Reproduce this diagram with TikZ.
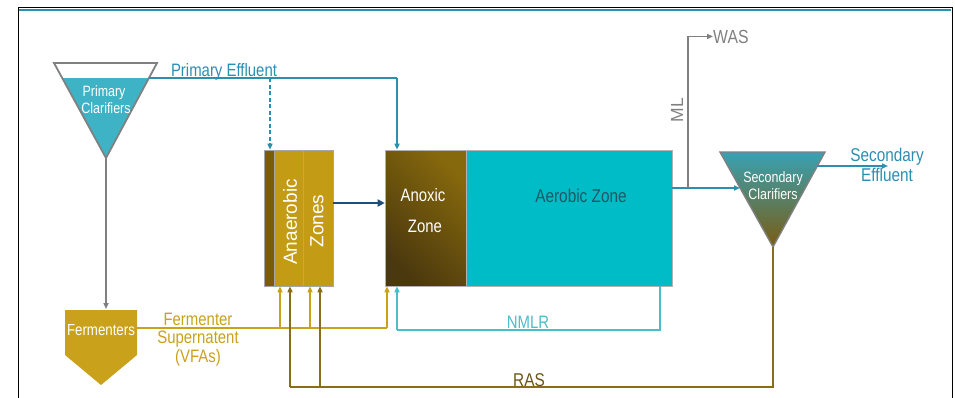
\documentclass[tikz,border=0pt]{standalone}
\usepackage{fontspec}
\setmainfont{Liberation Sans}[FakeStretch=0.83]
\newfontfamily\rotfont{Liberation Sans}
\usetikzlibrary{arrows.meta}
\definecolor{tealA}{HTML}{2B8FB0}
\definecolor{clarA}{HTML}{3FB3C6}
\definecolor{grayA}{HTML}{808080}
\definecolor{goldA}{HTML}{C9A11B}
\definecolor{goldB}{HTML}{C49B14}
\definecolor{stripA}{HTML}{7A5C0A}
\definecolor{anoxD}{HTML}{4A380E}
\definecolor{anoxL}{HTML}{86680D}
\definecolor{aerA}{HTML}{00BCC6}
\definecolor{aerT}{HTML}{1F5868}
\definecolor{navyA}{HTML}{1F4E79}
\definecolor{rasA}{HTML}{8A6D1A}
\definecolor{rasT}{HTML}{6B5516}
\definecolor{nmlrA}{HTML}{4DBCCB}
\definecolor{scBot}{HTML}{7A5C12}
\newcommand{\fsz}[1]{\fontsize{#1}{#1}\selectfont}
\begin{document}
\begin{tikzpicture}[x=1pt,y=-1pt,
  tip/.style={-{Triangle[length=6pt,width=5pt]}},
  lab/.style={inner sep=0pt,anchor=base},
  zone/.style={draw=black!35,line width=0.6pt,minimum height=136pt,inner sep=0pt},
  peline/.style={draw=tealA,line width=1.8pt},
  graylin/.style={draw=grayA,line width=1.6pt},
  goldlin/.style={draw=goldA,line width=2.2pt},
  raslin/.style={draw=rasA,line width=2.2pt},
  nmlrlin/.style={draw=nmlrA,line width=1.8pt}]
\useasboundingbox (0,0) rectangle (955,397);
% frame
\draw[black,line width=1pt] (18,398) -- (18,7) -- (952,7) -- (952,398);
\draw[tealA,line width=2.2pt] (19,10) -- (951,10);

% primary clarifier
\fill[clarA] (62.2,78) -- (148.9,78) -- (106,158) -- cycle;
\draw[grayA,line width=1.8pt,line join=miter] (54,63) -- (157,63) -- (106,158) -- cycle;
\node[lab,text=white,font=\fsz{15}] (pc1) at (104,96) {Primary};
\node[lab,text=white,font=\fsz{15}] (pc2) at (106,113) {Clarifiers};
\coordinate (pcw) at (149,78);
\coordinate (pcapex) at (106,158);

% fermenters
\fill[goldA] (65,310) -- (137,310) -- (137,355) -- (101,385) -- (65,355) -- cycle;
\node[lab,text=white,font=\fsz{16}] (fer) at (101,335) {Fermenters};
\coordinate (ferR) at (137,328);

% anaerobic zones
\node[zone,fill=stripA,minimum width=10pt] (strip) at (269,218) {};
\node[zone,fill=goldB,minimum width=29pt] (zA) at (288.5,218) {};
\node[zone,fill=goldB,minimum width=30pt] (zZ) at (318,218) {};
\node[rotate=90,text=white,font=\rotfont\fsz{19},inner sep=0pt] (anaer) at (290,222) {Anaerobic};
\node[rotate=90,text=white,font=\rotfont\fsz{19},inner sep=0pt] (zones) at (317,221) {Zones};

% anoxic and aerobic
\node[zone,draw=black!30,left color=anoxD,right color=anoxL,shading angle=135,minimum width=81pt] (anox) at (425.5,218) {};
\node[zone,draw=black!30,fill=aerA,minimum width=206pt] (aer) at (569,218) {};
\node[lab,text=white,font=\fsz{18}] (anoxt1) at (423,201) {Anoxic};
\node[lab,text=white,font=\fsz{18}] (anoxt2) at (425,232) {Zone};
\node[lab,text=aerT,font=\fsz{18.5}] (aert) at (581,202) {Aerobic Zone};

% secondary clarifier
\shade[top color=clarA!90!black,bottom color=scBot] (720,152) -- (825,152) -- (773,247) -- cycle;
\draw[grayA,line width=1.4pt,line join=miter] (720,152) -- (825,152) -- (773,247) -- cycle;
\node[lab,text=white,font=\fsz{15}] (sc1) at (773,182) {Secondary};
\node[lab,text=white,font=\fsz{15}] (sc2) at (773,199) {Clarifiers};
\coordinate (scin) at (740,188);
\coordinate (scout) at (817,166);
\coordinate (scapex) at (773,247);

% primary effluent
\coordinate (peC) at (397,78);
\coordinate (dashC) at (270,78);
\draw[peline] (pcw) -- (peC);
\draw[peline,tip] (peC) -- (peC |- anox.north);
\draw[tealA,line width=1.4pt,dash pattern=on 4pt off 2.5pt,tip] (dashC) -- (dashC |- strip.north);
\node[lab,text=tealA,font=\fsz{18}] (pelab) at (224,76) {Primary Effluent};

% gray to fermenters
\coordinate (ferTop) at (106,309);
\draw[graylin,tip] (pcapex) -- (ferTop);

% anaerobic to anoxic
\draw[navyA,line width=2.6pt,-{Triangle[length=7pt,width=7pt]}] (zZ.east |- 0,203) -- (anox.west |- 0,203);

% fermenter supernatant
\coordinate (f1) at (280,328);
\coordinate (f2) at (310,328);
\coordinate (f3) at (387,328);
\draw[goldlin] (ferR) -- (f3);
\draw[goldlin,tip] (f1) -- (f1 |- zA.south);
\draw[goldlin,tip] (f2) -- (f2 |- zZ.south);
\draw[goldlin,tip] (f3) -- (f3 |- anox.south);
\node[lab,text=goldA,font=\fsz{18}] (fs1) at (198,325) {Fermenter};
\node[lab,text=goldA,font=\fsz{18}] (fs2) at (198,343) {Supernatent};
\node[lab,text=goldA,font=\fsz{18}] (fs3) at (198,362) {(VFAs)};

% RAS
\coordinate (rasB) at (773,387);
\coordinate (r1) at (290,387);
\coordinate (r2) at (320,387);
\draw[raslin,line join=miter] (scapex) -- (rasB) -- (r1);
\draw[raslin,tip] (r1) -- (r1 |- zA.south);
\draw[raslin,tip] (r2) -- (r2 |- zZ.south);
\node[lab,text=rasT,font=\fsz{18.5}] (raslab) at (529,386) {RAS};

% NMLR
\coordinate (n1) at (660,330);
\coordinate (n2) at (397,330);
\draw[nmlrlin,line join=miter] (n1 |- aer.south) -- (n1) -- (n2);
\draw[nmlrlin,tip] (n2) -- (n2 |- anox.south);
\node[lab,text=nmlrA,font=\fsz{18}] (nmlrlab) at (528,328) {NMLR};

% aerobic outlet, ML, WAS
\coordinate (ml) at (688,188);
\draw[peline] (aer.east |- ml) -- (ml);
\draw[peline,tip] (ml) -- (scin);
\node[lab,anchor=base west,text=grayA,font=\fsz{19}] (was) at (713,43) {WAS};
\draw[graylin,line join=miter,tip] (ml) -- (ml |- was.west) -- (was.west);
\node[rotate=90,text=grayA,font=\rotfont\fsz{17.5},inner sep=0pt] (mllab) at (677,110) {ML};

% secondary effluent
\node[lab,text=tealA,font=\fsz{18.5}] (se1) at (887,161) {Secondary};
\node[lab,text=tealA,font=\fsz{18.5}] (se2) at (887,181) {Effluent};
\coordinate (seEnd) at (888,166);
\draw[peline,tip] (scout) -- (seEnd);
\end{tikzpicture}
\end{document}
